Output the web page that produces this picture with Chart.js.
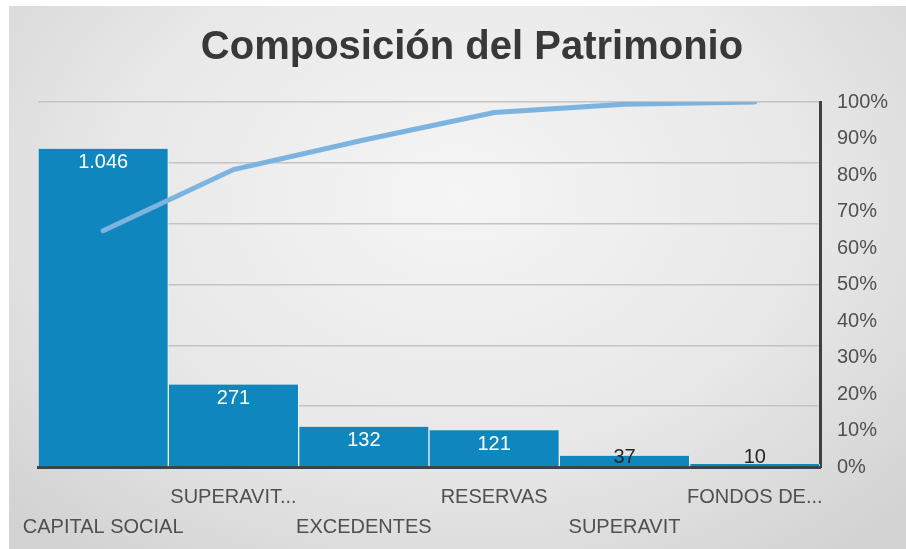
<!DOCTYPE html>
<html>
<head>
<meta charset="utf-8">
<script src="https://cdn.jsdelivr.net/npm/chart.js@4.4.1/dist/chart.umd.min.js"></script>
<style>
  html, body { margin: 0; padding: 0; background: #ffffff; }
  #wrap {
    position: absolute; left: 9px; top: 6px; width: 897px; height: 543px;
    background: radial-gradient(ellipse 70% 85% at 50% 35%, #f5f5f5 0%, #e8e8e8 55%, #d2d2d2 100%);
  }
</style>
</head>
<body>
<div id="wrap"><canvas id="myChart"></canvas></div>
<script>
const categories = ["CAPITAL SOCIAL", "SUPERAVIT...", "EXCEDENTES", "RESERVAS", "SUPERAVIT", "FONDOS DE..."];
const values = [1046, 271, 132, 121, 37, 10];
const cumulative = [0.647, 0.815, 0.896, 0.971, 0.994, 1.0];
const pctTicks = ["0%", "10%", "20%", "30%", "40%", "50%", "60%", "70%", "80%", "90%", "100%"];

// staggered labels: odd ones on the upper row, even ones on the lower row
const staggered = categories.map((c, i) => (i % 2 === 0 ? ["", c] : [c]));

const fmt = (v) => String(v).replace(/\B(?=(\d{3})+(?!\d))/g, ".");

const barLabels = {
  id: "barLabels",
  afterDatasetsDraw(chart) {
    const ctx = chart.ctx;
    const meta = chart.getDatasetMeta(1);
    ctx.save();
    ctx.font = "20px 'Liberation Sans', Arial, sans-serif";
    ctx.textAlign = "center";
    ctx.textBaseline = "middle";
    meta.data.forEach((bar, i) => {
      const h = bar.base - bar.y;
      const y = Math.min(bar.y + 14, bar.base - 9);
      ctx.fillStyle = h > 25 ? "#ffffff" : "#262626";
      ctx.fillText(fmt(values[i]), bar.x, y);
    });
    ctx.restore();
  },
};

const data = {
  labels: staggered,
  datasets: [
    {
      type: "line",
      data: cumulative,
      yAxisID: "y1",
      borderColor: "#7cb3df",
      borderWidth: 5,
      borderCapStyle: "round",
      pointRadius: 0,
      tension: 0,
      order: 0,
    },
    {
      type: "bar",
      data: values,
      yAxisID: "y",
      backgroundColor: "#0f87be",
      borderColor: "#f2f2f2",
      borderWidth: { left: 1, right: 1, top: 0, bottom: 0 },
      borderSkipped: "bottom",
      barPercentage: 1,
      categoryPercentage: 1,
      order: 1,
    },
  ],
};

const config = {
  data: data,
  plugins: [barLabels],
  options: {
    responsive: true,
    maintainAspectRatio: false,
    animation: false,
    layout: { padding: { left: 29, right: 0, top: 0, bottom: 0 } },
    plugins: {
      legend: { display: false },
      tooltip: { enabled: false },
      title: {
        display: true,
        text: "Composición del Patrimonio",
        color: "#383838",
        font: { family: "'Liberation Sans', Arial, sans-serif", size: 40, weight: "bold", lineHeight: 1.2 },
        padding: { top: 18, bottom: 30 },
      },
    },
    scales: {
      x: {
        grid: { display: true, drawOnChartArea: false, drawTicks: false },
        border: { display: true, color: "#404040", width: 3 },
        ticks: {
          color: "#505050",
          padding: 15,
          maxRotation: 0,
          autoSkip: false,
          font: { family: "'Liberation Sans', Arial, sans-serif", size: 20, lineHeight: 1.5 },
        },
        afterFit: (scale) => {
          scale.height = 82;
          scale.paddingLeft = 0;
          scale.paddingRight = 0;
        },
      },
      y: {
        position: "left",
        min: 0,
        max: 1200,
        ticks: { stepSize: 200, display: false },
        grid: { color: "#c4c4c4", lineWidth: 1.5, drawTicks: false },
        border: { display: false },
        afterFit: (scale) => { scale.width = 0; },
      },
      y1: {
        position: "right",
        min: 0,
        max: 1,
        ticks: {
          stepSize: 0.1,
          padding: 17,
          color: "#505050",
          font: { family: "'Liberation Sans', Arial, sans-serif", size: 20 },
          callback: (value, index) => pctTicks[index],
        },
        grid: { display: false, drawTicks: false },
        border: { display: true, color: "#404040", width: 3 },
        afterFit: (scale) => { scale.width = 86; },
      },
    },
  },
};

const chartOne = new Chart(document.getElementById("myChart"), config);
</script>
</body>
</html>
